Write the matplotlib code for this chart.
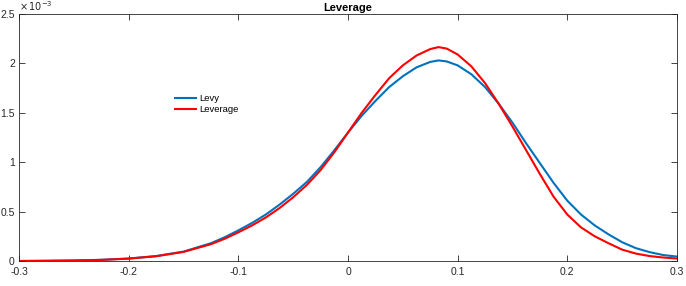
import matplotlib.pyplot as plt
import numpy as np

plt.rcParams['font.family'] = ['Liberation Sans', 'DejaVu Sans']
plt.rcParams['axes.unicode_minus'] = False

# x positions
x = [-0.3, -0.275, -0.25, -0.225, -0.2, -0.175, -0.15, -0.125, -0.1125, -0.1,
     -0.0875, -0.075, -0.0625, -0.05, -0.0375, -0.025, -0.0125, 0.0, 0.0125,
     0.025, 0.0375, 0.05, 0.0625, 0.075, 0.0825, 0.09, 0.1, 0.1125, 0.125,
     0.1375, 0.15, 0.1625, 0.175, 0.1875, 0.2, 0.2125, 0.225, 0.2375, 0.25,
     0.2625, 0.275, 0.2875, 0.3]

# densities in units of 1e-3
levy = [0.0, 0.002, 0.005, 0.012, 0.025, 0.05, 0.095, 0.18, 0.24, 0.31,
        0.385, 0.47, 0.57, 0.68, 0.80, 0.95, 1.12, 1.30, 1.47,
        1.62, 1.76, 1.87, 1.96, 2.015, 2.03, 2.02, 1.98, 1.89, 1.76,
        1.59, 1.40, 1.19, 0.99, 0.79, 0.61, 0.47, 0.36, 0.27, 0.19,
        0.13, 0.09, 0.06, 0.045]
leverage = [0.0, 0.002, 0.005, 0.011, 0.024, 0.048, 0.092, 0.17, 0.225, 0.29,
            0.36, 0.44, 0.535, 0.645, 0.77, 0.92, 1.10, 1.30, 1.50,
            1.68, 1.85, 1.98, 2.08, 2.145, 2.165, 2.15, 2.09, 1.97, 1.80,
            1.59, 1.36, 1.12, 0.88, 0.65, 0.47, 0.34, 0.25, 0.18, 0.115,
            0.075, 0.05, 0.035, 0.025]

xticks = [-0.3, -0.2, -0.1, 0, 0.1, 0.2, 0.3]
xticklabels = ['-0.3', '-0.2', '-0.1', '0', '0.1', '0.2', '0.3']
yticks = [0, 0.5, 1, 1.5, 2, 2.5]
yticklabels = ['0', '0.5', '1', '1.5', '2', '2.5']

axcol = '#262626'

fig = plt.figure(figsize=(6.86, 2.86), dpi=100)
ax = fig.add_axes([19 / 686, 25 / 286, 658 / 686, 247 / 286])

ax.plot(x, levy, color=(0, 0.447, 0.741), lw=1.5, label='Levy')
ax.plot(x, leverage, color='red', lw=1.5, label='Leverage')

ax.set_xlim(-0.3, 0.3)
ax.set_ylim(0, 2.5)
ax.set_xticks(xticks)
ax.set_xticklabels(xticklabels)
ax.set_yticks(yticks)
ax.set_yticklabels(yticklabels)
ax.tick_params(direction='in', top=True, right=True, length=4, width=0.6,
               labelsize=7.5, colors=axcol)
ax.tick_params(axis='x', pad=4)
ax.tick_params(axis='y', pad=3)
for s in ax.spines.values():
    s.set_color(axcol)
    s.set_linewidth(0.6)

ax.set_title('Leverage', fontsize=8, fontweight='bold', pad=2)
ax.text(0, 1.005, r'$\times\,10^{-3}$', transform=ax.transAxes, fontsize=7,
        color=axcol, ha='left', va='bottom')

ax.legend(loc='upper left', bbox_to_anchor=(0.224, 0.71), frameon=False,
          fontsize=6.8, handlelength=2.2, handletextpad=0.4, labelspacing=0.2)

fig.savefig('out.png', dpi=100)
